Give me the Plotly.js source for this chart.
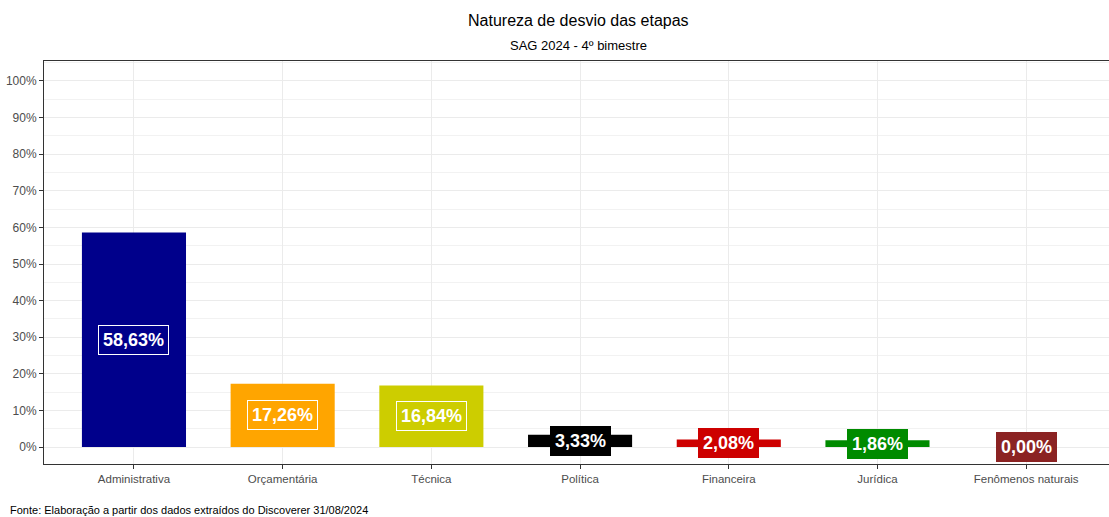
<!DOCTYPE html>
<html>
<head>
<meta charset="utf-8">
<script src="https://cdn.plot.ly/plotly-3.0.1.min.js"></script>
<style>html,body{margin:0;padding:0;background:#fff;}#chart{width:1109px;height:517px;}</style>
</head>
<body>
<div id="chart"></div>
<script>
const categories = ["Administrativa", "Orçamentária", "Técnica", "Política", "Financeira", "Jurídica", "Fenômenos naturais"];
const values = [58.63, 17.26, 16.84, 3.33, 2.08, 1.86, 0.00];
const labels = ["58,63%", "17,26%", "16,84%", "3,33%", "2,08%", "1,86%", "0,00%"];
const colors = ["#00008B", "#FFA500", "#CDCD00", "#000000", "#CD0000", "#008B00", "#8B2323"];
const yTicks = [0, 10, 20, 30, 40, 50, 60, 70, 80, 90, 100];
const yTickText = yTicks.map(v => v + "%");

const FONT = "'Liberation Sans', Arial, sans-serif";

const trace = {
  type: "bar",
  x: categories,
  y: values,
  width: 0.7,
  marker: {color: colors, line: {width: 0}},
  hoverinfo: "skip"
};

const annotations = categories.map((c, i) => ({
  x: c, y: values[i] / 2, xref: "x", yref: "y",
  text: "<b>" + labels[i] + "</b>",
  showarrow: false,
  font: {family: FONT, size: 18, color: "#FFFFFF"},
  bgcolor: colors[i],
  bordercolor: i < 3 ? "#FFFFFF" : colors[i],
  borderwidth: 1,
  borderpad: 4
}));

const mt = 61, mb = 53, H = 517, ml = 44, W = 1109;
const plotH = H - mt - mb;
function paperY(py) { return (H - mb - py) / plotH; }
function paperX(px) { return (px - ml) / (W - ml); }

annotations.push({
  xref: "paper", yref: "paper", x: paperX(578), y: paperY(20), xanchor: "center", yanchor: "middle",
  text: "Natureza de desvio das etapas", showarrow: false,
  font: {family: FONT, size: 16, color: "#000000"}
});
annotations.push({
  xref: "paper", yref: "paper", x: paperX(578), y: paperY(46), xanchor: "center", yanchor: "middle",
  text: "SAG 2024 - 4º bimestre", showarrow: false,
  font: {family: FONT, size: 13, color: "#000000"}
});
annotations.push({
  xref: "paper", yref: "paper", x: paperX(8), y: paperY(510), xanchor: "left", yanchor: "middle",
  text: "Fonte: Elaboração a partir dos dados extraídos do Discoverer 31/08/2024", showarrow: false,
  font: {family: FONT, size: 11, color: "#000000"}
});

const layout = {
  width: W, height: H,
  margin: {l: ml, r: 0, t: mt, b: mb, pad: 0},
  paper_bgcolor: "#FFFFFF",
  plot_bgcolor: "#FFFFFF",
  showlegend: false,
  font: {family: FONT},
  xaxis: {
    type: "category",
    range: [-0.605, 6.557],
    showgrid: true, gridcolor: "#EBEBEB", gridwidth: 1,
    showline: true, linecolor: "#333333", linewidth: 1, mirror: true,
    ticks: "outside", ticklen: 4, tickcolor: "#333333",
    tickfont: {family: FONT, size: 11.5, color: "#4D4D4D"},
    zeroline: false, fixedrange: true
  },
  yaxis: {
    range: [-4.64, 105.46],
    tickvals: yTicks, ticktext: yTickText,
    showgrid: true, gridcolor: "#EBEBEB", gridwidth: 1,
    minor: {dtick: 5, tick0: 5, showgrid: true, gridcolor: "#F2F2F2", gridwidth: 1, ticks: ""},
    showline: true, linecolor: "#333333", linewidth: 1, mirror: false,
    ticks: "outside", ticklen: 4, tickcolor: "#333333",
    tickfont: {family: FONT, size: 12, color: "#4D4D4D"},
    zeroline: false, fixedrange: true
  },
  annotations: annotations
};

Plotly.newPlot("chart", [trace], layout, {displayModeBar: false, staticPlot: true});
</script>
</body>
</html>
